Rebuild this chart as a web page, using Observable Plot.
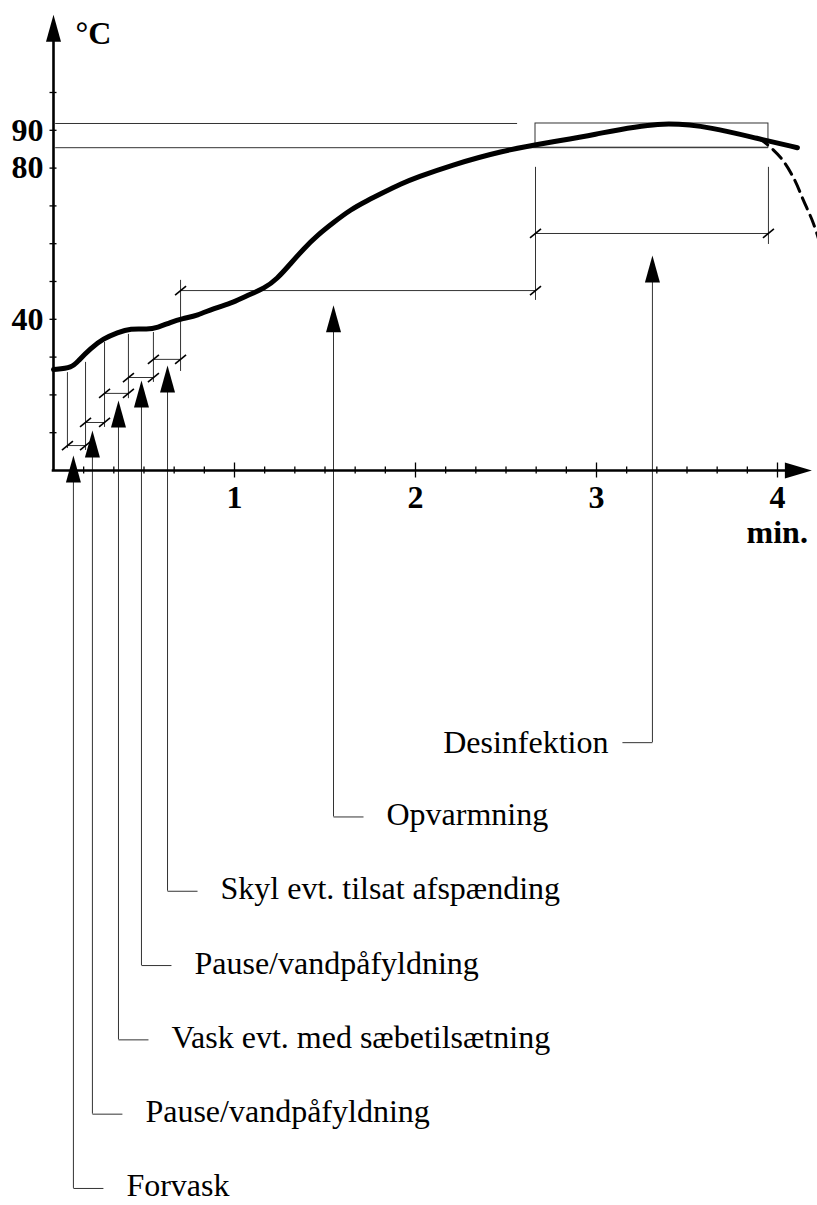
<!DOCTYPE html>
<html>
<head>
<meta charset="utf-8">
<script src="https://cdn.jsdelivr.net/npm/d3@7"></script>
<script src="https://cdn.jsdelivr.net/npm/@observablehq/plot@0.6"></script>
<style>
  html, body { margin: 0; padding: 0; background: #fff; }
</style>
</head>
<body>
<div id="chart"></div>
<script>
// ---------------- data ----------------
// temperature curve, minutes -> °C
const curveTime = [0, 0.105, 0.138, 0.204, 0.276, 0.354, 0.425, 0.519, 0.575, 0.646, 0.713, 0.796, 0.884, 0.994, 1.088, 1.162, 1.236, 1.309, 1.383, 1.457, 1.549, 1.641, 1.733, 1.825, 1.917, 2.009, 2.193, 2.470, 2.746, 2.967, 3.354, 3.646, 3.890, 4.110];
const curveTemp = [26.7, 27.2, 29.1, 32.3, 34.9, 36.5, 37.6, 37.3, 37.8, 39.2, 40.2, 41.0, 42.9, 44.4, 46.7, 48.1, 50.7, 54.7, 58.7, 62.2, 65.7, 69.0, 71.4, 73.6, 75.8, 77.6, 80.7, 84.5, 86.9, 88.6, 92.5, 90.7, 87.8, 85.4];
// cooling (dashed) branch
const coolTime = [3.890, 3.923, 4.017, 4.088, 4.144, 4.199, 4.238];
const coolTemp = [87.8, 87.0, 82.8, 77.5, 71.4, 65.3, 59.5];

// phases (chronological)
const phaseNames = ["Forvask", "Pause/vandpåfyldning", "Vask evt. med sæbetilsætning", "Pause/vandpåfyldning", "Skyl evt. tilsat afspænding", "Opvarmning", "Desinfektion"];
const phaseStart = [0.077, 0.177, 0.282, 0.414, 0.552, 0.702, 2.663];
const phaseEnd   = [0.177, 0.282, 0.414, 0.552, 0.702, 2.663, 3.950];
const bracketTemp = [6.6, 12.7, 20.4, 24.6, 29.4, 47.6, 62.7];
const pointerTime = [0.110, 0.215, 0.359, 0.486, 0.630, 1.547, 3.309];
const pointerTemp = [4.0, 10.6, 18.5, 23.8, 27.8, 43.7, 56.9];
const labelSide   = [1, 1, 1, 1, 1, 1, -1];

// phase boundary lines
const boundaryTime   = [0.077, 0.177, 0.282, 0.414, 0.552, 0.702, 2.663, 3.950];
const boundaryTop    = [25.9, 28.6, 33.9, 36.0, 36.5, 50.3, 80.2, 80.2];
const boundaryBottom = [5.8, 5.3, 11.4, 19.0, 23.3, 26.2, 45.0, 59.8];

// disinfection holding band
const holdLow = 85.4;
const holdHigh = 91.8;
const holdHighEnd = 2.564;

// axes
const yTickValues = [10, 20, 30, 40, 50, 60, 70, 80, 90, 100];
const yTickLabels = [40, 80, 90];
const xTickLabels = [1, 2, 3, 4];
const xMinorPerMin = 6;   // 10-second ticks
const xAxisEnd = 4.19;
const yAxisEnd = 120.6;

// ---------------- layout ----------------
const W = 817, H = 1205;
const x0px = 53, y0px = 470, pxPerMin = 181, pxPerDeg = 3.78;
const mx = px => px / pxPerMin;
const my = px => px / pxPerDeg;
const xDomain = [-x0px / pxPerMin, (W - x0px) / pxPerMin];
const yDomain = [(y0px - H) / pxPerDeg, y0px / pxPerDeg];
const rowTop = -72.0, rowStep = my(74.3);

const curve = curveTime.map((t, i) => ({t, T: curveTemp[i]}));
const cool = coolTime.map((t, i) => ({t, T: coolTemp[i]}));
const phases = phaseNames.map((name, i) => ({
  name, start: phaseStart[i], end: phaseEnd[i], bracket: bracketTemp[i],
  px: pointerTime[i], pT: pointerTemp[i], side: labelSide[i],
  row: rowTop - (phaseNames.length - 1 - i) * rowStep
}));
const boundaries = boundaryTime.map((t, i) => ({t, top: boundaryTop[i], bot: boundaryBottom[i]}));
const slashEnds = phases.flatMap(p => [{t: p.start, T: p.bracket}, {t: p.end, T: p.bracket}]);

const xTicks = d3.range(1, xTickLabels[xTickLabels.length - 1] * xMinorPerMin + 1).map(k => ({t: k / xMinorPerMin, major: k % xMinorPerMin === 0}));

const arrowUp = {draw(ctx) { ctx.moveTo(0, 0); ctx.lineTo(7.5, 27); ctx.lineTo(-7.5, 27); ctx.closePath(); }};
const arrowRight = {draw(ctx) { ctx.moveTo(0, 0); ctx.lineTo(-27, -8); ctx.lineTo(-27, 8); ctx.closePath(); }};

const thin = "#333";
const font = "'Liberation Serif', 'Times New Roman', serif";

const chart = Plot.plot({
  width: W, height: H,
  marginTop: 0, marginRight: 0, marginBottom: 0, marginLeft: 0,
  x: {domain: xDomain, axis: null},
  y: {domain: yDomain, axis: null},
  style: {fontFamily: font, background: "#fff"},
  marks: [
    // holding band reference lines and box
    Plot.ruleY([holdHigh], {x1: 0.012, x2: holdHighEnd, stroke: thin, strokeWidth: 1}),
    Plot.ruleY([holdLow], {x1: 0.012, x2: phaseEnd[phaseEnd.length - 1], stroke: thin, strokeWidth: 1}),
    Plot.rect([phases[phases.length - 1]], {x1: "start", x2: "end", y1: holdLow, y2: holdHigh, fill: "none", stroke: thin, strokeWidth: 1}),
    // boundary verticals
    Plot.ruleX(boundaries, {x: "t", y1: "bot", y2: "top", stroke: thin, strokeWidth: 1}),
    // brackets
    Plot.ruleY(phases, {y: "bracket", x1: "start", x2: "end", stroke: thin, strokeWidth: 1}),
    Plot.link(slashEnds, {
      x1: d => d.t - mx(5.5), y1: d => d.T - my(4.5),
      x2: d => d.t + mx(5.5), y2: d => d.T + my(4.5),
      stroke: "#000", strokeWidth: 1.6
    }),
    // pointer shafts and leaders
    Plot.ruleX(phases, {x: "px", y1: "row", y2: d => d.pT - my(20), stroke: thin, strokeWidth: 1}),
    Plot.link(phases, {x1: "px", x2: d => d.px + d.side * mx(30), y1: "row", y2: "row", stroke: thin, strokeWidth: 1}),
    Plot.dot(phases, {x: "px", y: "pT", symbol: arrowUp, fill: "#000", stroke: null, r: 8}),
    // phase labels
    Plot.text(phases.filter(d => d.side > 0), {x: "px", y: "row", text: "name", textAnchor: "start", lineAnchor: "bottom", dx: 53, dy: 8, fontSize: 32, fill: "#000", fontFamily: font}),
    Plot.text(phases.filter(d => d.side < 0), {x: "px", y: "row", text: "name", textAnchor: "end", lineAnchor: "bottom", dx: -44, dy: 10, fontSize: 32, fill: "#000", fontFamily: font}),
    // axes
    Plot.ruleX([0], {y1: 0, y2: yAxisEnd - my(10), stroke: "#000", strokeWidth: 2.6}),
    Plot.ruleY([0], {x1: -mx(1.3), x2: xAxisEnd - mx(10), stroke: "#000", strokeWidth: 2.6}),
    Plot.dot([{t: 0, T: yAxisEnd}], {x: "t", y: "T", symbol: arrowUp, fill: "#000", stroke: null, r: 8}),
    Plot.dot([{t: xAxisEnd, T: 0}], {x: "t", y: "T", symbol: arrowRight, fill: "#000", stroke: null, r: 8}),
    Plot.ruleX(xTicks, {x: "t", y1: d => -my(d.major ? 7.5 : 3.5), y2: d => my(d.major ? 7.5 : 3.5), stroke: "#000", strokeWidth: 1.3}),
    Plot.ruleY(yTickValues, {y: d => d, x1: -mx(3.5), x2: mx(3.5), stroke: "#000", strokeWidth: 1.3}),
    Plot.text(xTickLabels, {x: d => d, y: 0, text: d => String(d), textAnchor: "middle", lineAnchor: "bottom", dy: 37, fontSize: 32, fontWeight: "bold", fill: "#000", fontFamily: font}),
    Plot.text(yTickLabels, {x: 0, y: d => d, text: d => String(d), textAnchor: "end", lineAnchor: "middle", dx: -10, fontSize: 32, fontWeight: "bold", fill: "#000", fontFamily: font}),
    Plot.text(["°C"], {x: 0, y: yAxisEnd, text: d => d, textAnchor: "start", lineAnchor: "bottom", dx: 22, dy: 29, fontSize: 32, fontWeight: "bold", fill: "#000", fontFamily: font}),
    Plot.text(["min."], {x: xAxisEnd, y: 0, text: d => d, textAnchor: "end", lineAnchor: "bottom", dx: -4, dy: 72, fontSize: 32, fontWeight: "bold", fill: "#000", fontFamily: font}),
    // temperature curve
    Plot.line(cool, {x: "t", y: "T", curve: "catmull-rom", stroke: "#000", strokeWidth: 3, strokeDasharray: "12,7", clip: true}),
    Plot.line(curve, {x: "t", y: "T", curve: "basis", stroke: "#000", strokeWidth: 5, strokeLinecap: "round", strokeLinejoin: "round"})
  ]
});
document.getElementById("chart").appendChild(chart);
</script>
</body>
</html>
